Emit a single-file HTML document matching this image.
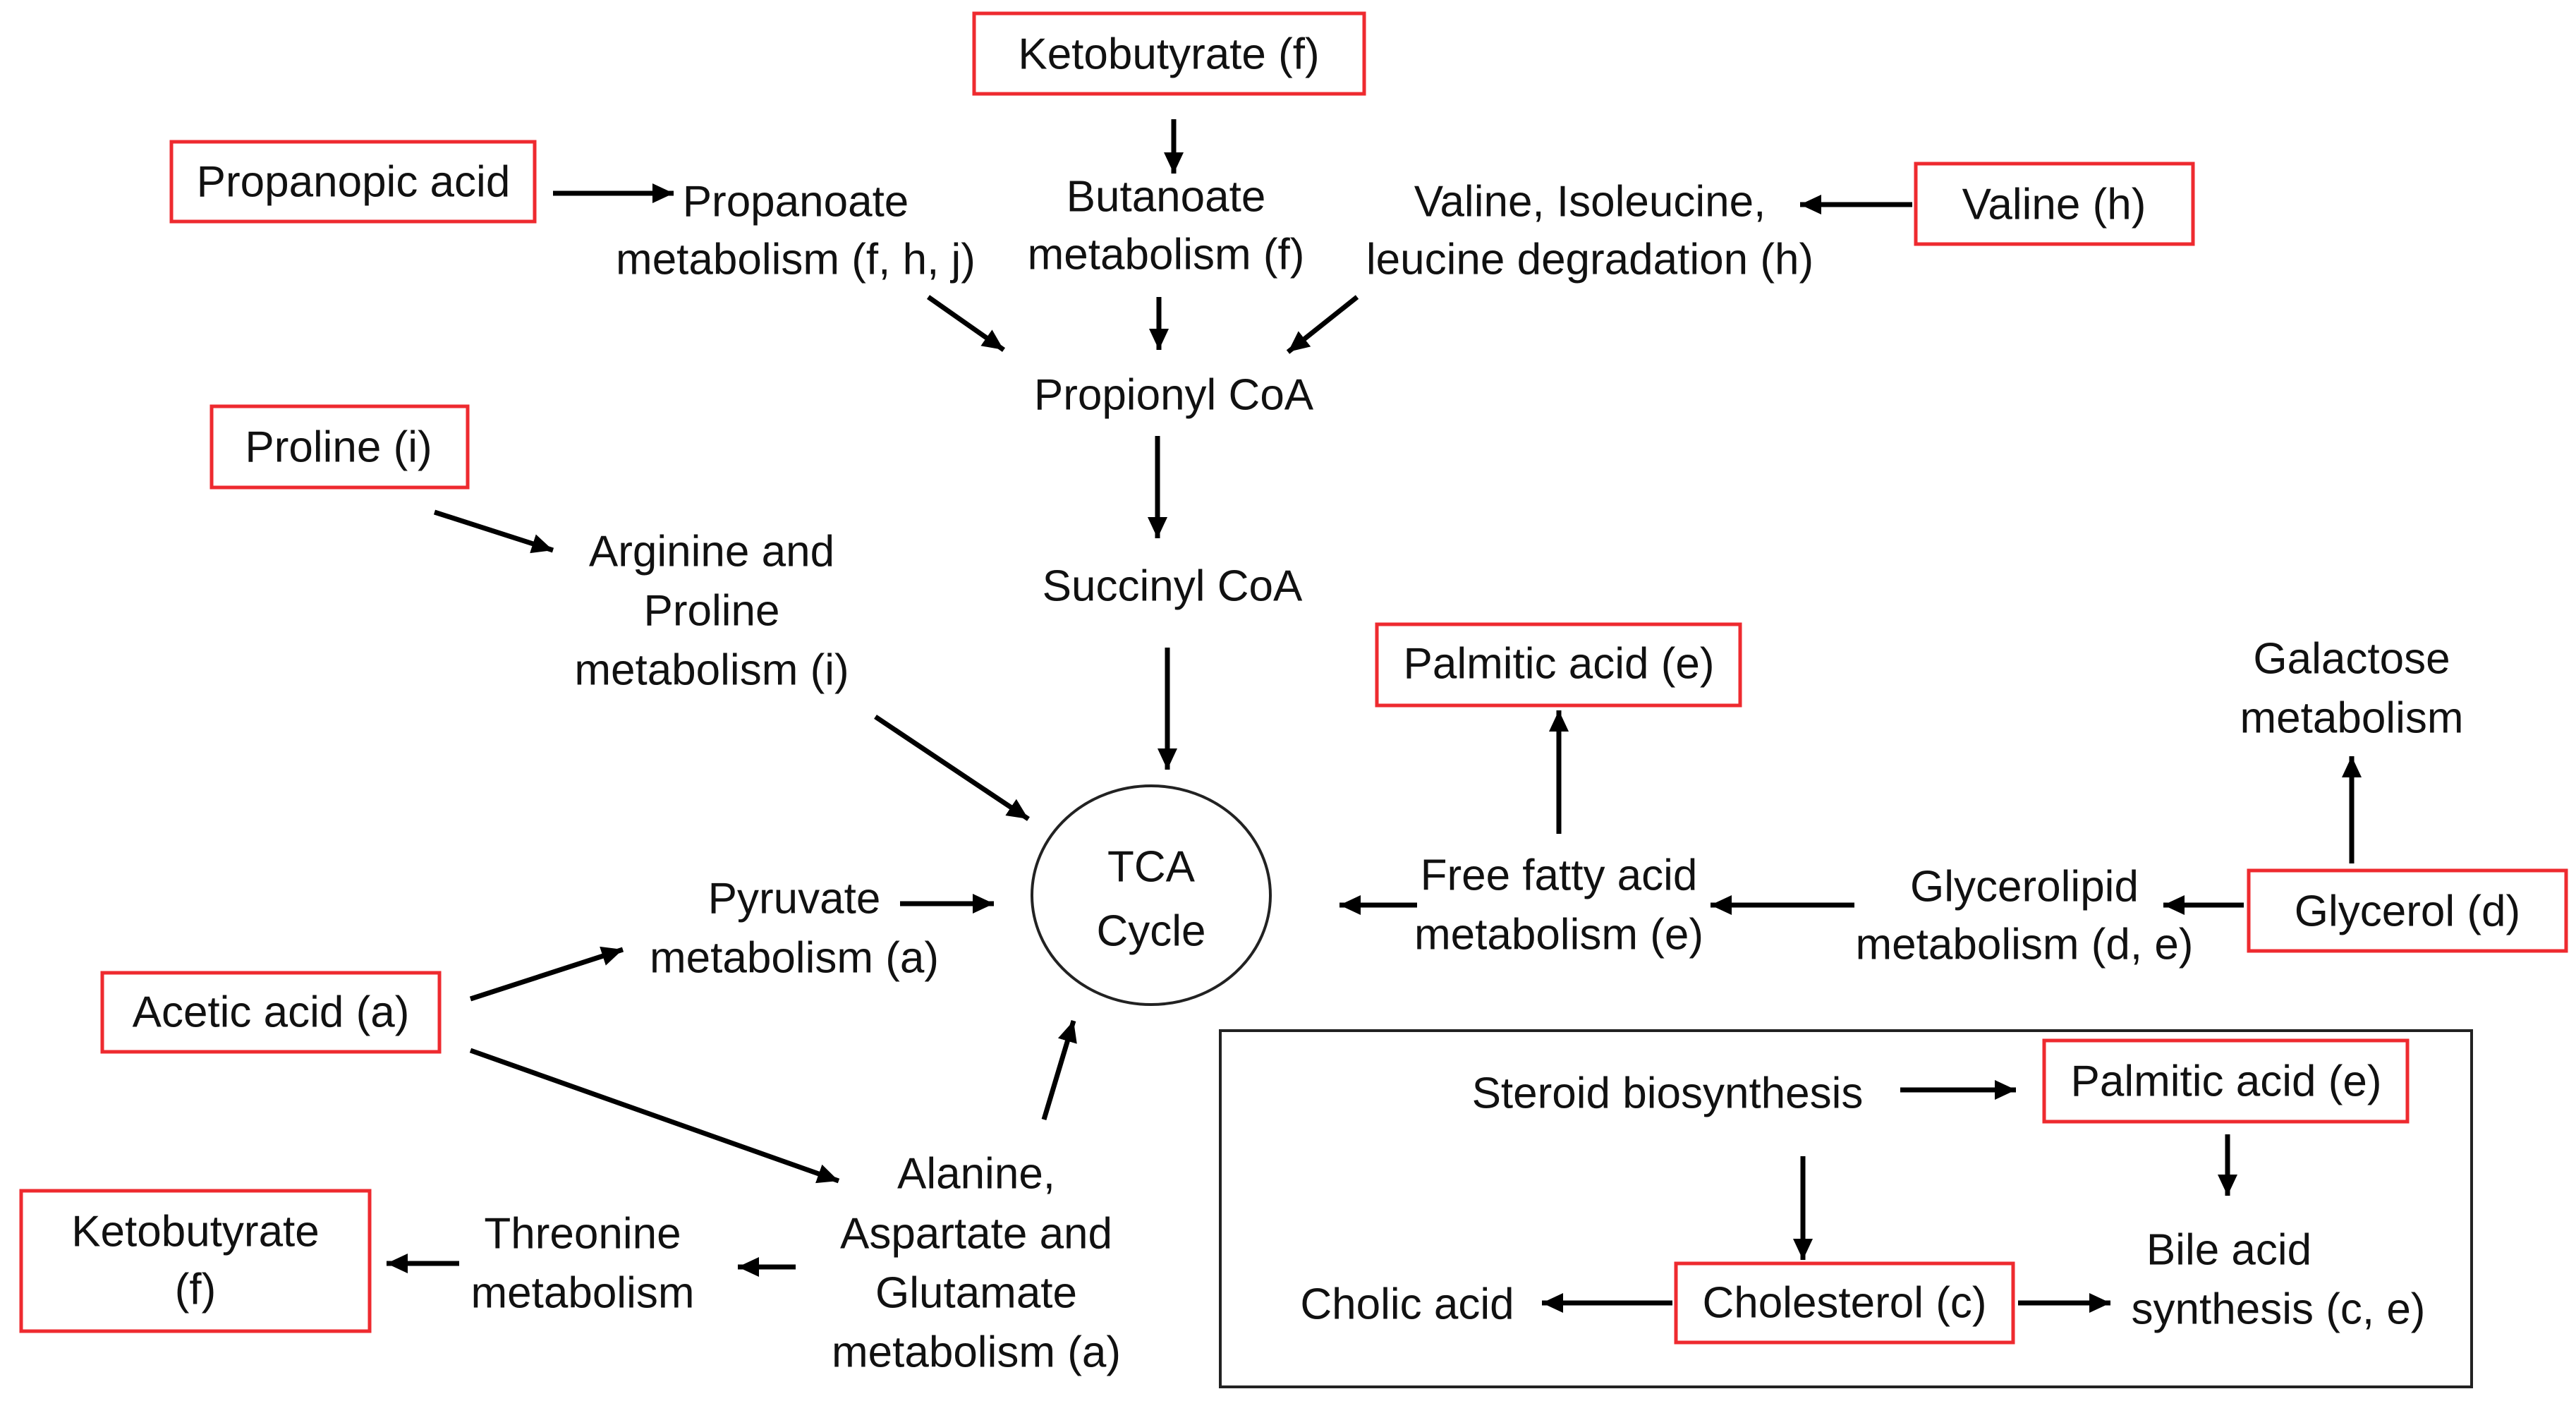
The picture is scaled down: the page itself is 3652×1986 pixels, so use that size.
<!DOCTYPE html>
<html><head><meta charset="utf-8"><style>
html,body{margin:0;padding:0;background:#fff}
svg{display:block}
text{font-family:"Liberation Sans",sans-serif;font-size:62px;fill:#111;text-anchor:middle;dominant-baseline:central}
.r{fill:none;stroke:#ee2a2f;stroke-width:5}
.a{stroke:#000;stroke-width:7;fill:none;marker-end:url(#h)}
</style></head><body>
<svg width="3652" height="1986" viewBox="0 0 3652 1986" xmlns="http://www.w3.org/2000/svg">
<defs><marker id="h" markerUnits="userSpaceOnUse" markerWidth="34" markerHeight="30" refX="30" refY="14" orient="auto"><path d="M0,0 L30,14 L0,28 Z" fill="#000"/></marker></defs>

<rect class="r" x="1381" y="19" width="553" height="114"/><text x="1657" y="77">Ketobutyrate (f)</text>
<rect class="r" x="243" y="201" width="515" height="113"/><text x="501" y="258">Propanopic acid</text>
<rect class="r" x="2716" y="232" width="393" height="114"/><text x="2912" y="290">Valine (h)</text>
<rect class="r" x="300" y="576" width="363" height="115"/><text x="480" y="634">Proline (i)</text>
<rect class="r" x="1952" y="885" width="515" height="115"/><text x="2210" y="941">Palmitic acid (e)</text>
<rect class="r" x="3188" y="1234" width="450" height="114"/><text x="3413" y="1292">Glycerol (d)</text>
<rect class="r" x="145" y="1379" width="478" height="112"/><text x="384" y="1435">Acetic acid (a)</text>
<rect class="r" x="30" y="1688" width="494" height="199"/><text x="277" y="1746">Ketobutyrate</text><text x="277" y="1828">(f)</text>
<rect x="1730" y="1461" width="1774" height="505" fill="none" stroke="#222" stroke-width="4"/>
<rect class="r" x="2898" y="1475" width="515" height="115"/><text x="3156" y="1533">Palmitic acid (e)</text>
<rect class="r" x="2376" y="1791" width="478" height="112"/><text x="2615" y="1847">Cholesterol (c)</text>
<ellipse cx="1632" cy="1269" rx="169" ry="155" fill="none" stroke="#222" stroke-width="4"/>
<text x="1632" y="1229">TCA</text><text x="1632" y="1320">Cycle</text>

<text x="1128" y="286">Propanoate</text><text x="1128" y="368">metabolism (f, h, j)</text>
<text x="1653" y="279">Butanoate</text><text x="1653" y="361">metabolism (f)</text>
<text x="2254" y="286">Valine, Isoleucine,</text><text x="2254" y="368">leucine degradation (h)</text>
<text x="1664" y="560">Propionyl CoA</text>
<text x="1662" y="831">Succinyl CoA</text>
<text x="1009" y="782">Arginine and</text><text x="1009" y="866">Proline</text><text x="1009" y="950">metabolism (i)</text>
<text x="1126" y="1274">Pyruvate</text><text x="1126" y="1358">metabolism (a)</text>
<text x="2210" y="1241">Free fatty acid</text><text x="2210" y="1325">metabolism (e)</text>
<text x="2870" y="1257">Glycerolipid</text><text x="2870" y="1339">metabolism (d, e)</text>
<text x="3334" y="934">Galactose</text><text x="3334" y="1018">metabolism</text>
<text x="1384" y="1664">Alanine,</text><text x="1384" y="1749">Aspartate and</text><text x="1384" y="1833">Glutamate</text><text x="1384" y="1917">metabolism (a)</text>
<text x="826" y="1749">Threonine</text><text x="826" y="1833">metabolism</text>
<text x="2364" y="1550">Steroid biosynthesis</text>
<text x="1995" y="1849">Cholic acid</text>
<text x="3160" y="1772">Bile acid</text><text x="3230" y="1856">synthesis (c, e)</text>

<line class="a" x1="784" y1="274" x2="955" y2="274"/>
<line class="a" x1="1664" y1="169" x2="1664" y2="246"/>
<line class="a" x1="2711" y1="290" x2="2552" y2="290"/>
<line class="a" x1="1316" y1="421" x2="1423" y2="496"/>
<line class="a" x1="1643" y1="421" x2="1643" y2="496"/>
<line class="a" x1="1924" y1="421" x2="1826" y2="499"/>
<line class="a" x1="1641" y1="618" x2="1641" y2="763"/>
<line class="a" x1="1655" y1="918" x2="1655" y2="1091"/>
<line class="a" x1="616" y1="726" x2="784" y2="780"/>
<line class="a" x1="1241" y1="1016" x2="1458" y2="1161"/>
<line class="a" x1="1276" y1="1281" x2="1409" y2="1281"/>
<line class="a" x1="667" y1="1416" x2="883" y2="1346"/>
<line class="a" x1="667" y1="1489" x2="1189" y2="1674"/>
<line class="a" x1="1480" y1="1587" x2="1522" y2="1447"/>
<line class="a" x1="1128" y1="1796" x2="1046" y2="1796"/>
<line class="a" x1="651" y1="1791" x2="548" y2="1791"/>
<line class="a" x1="2009" y1="1283" x2="1899" y2="1283"/>
<line class="a" x1="2210" y1="1182" x2="2210" y2="1007"/>
<line class="a" x1="2629" y1="1283" x2="2425" y2="1283"/>
<line class="a" x1="3181" y1="1283" x2="3067" y2="1283"/>
<line class="a" x1="3334" y1="1224" x2="3334" y2="1072"/>
<line class="a" x1="2694" y1="1545" x2="2858" y2="1545"/>
<line class="a" x1="2556" y1="1639" x2="2556" y2="1786"/>
<line class="a" x1="3158" y1="1608" x2="3158" y2="1695"/>
<line class="a" x1="2371" y1="1847" x2="2186" y2="1847"/>
<line class="a" x1="2861" y1="1847" x2="2992" y2="1847"/>
</svg>
</body></html>
